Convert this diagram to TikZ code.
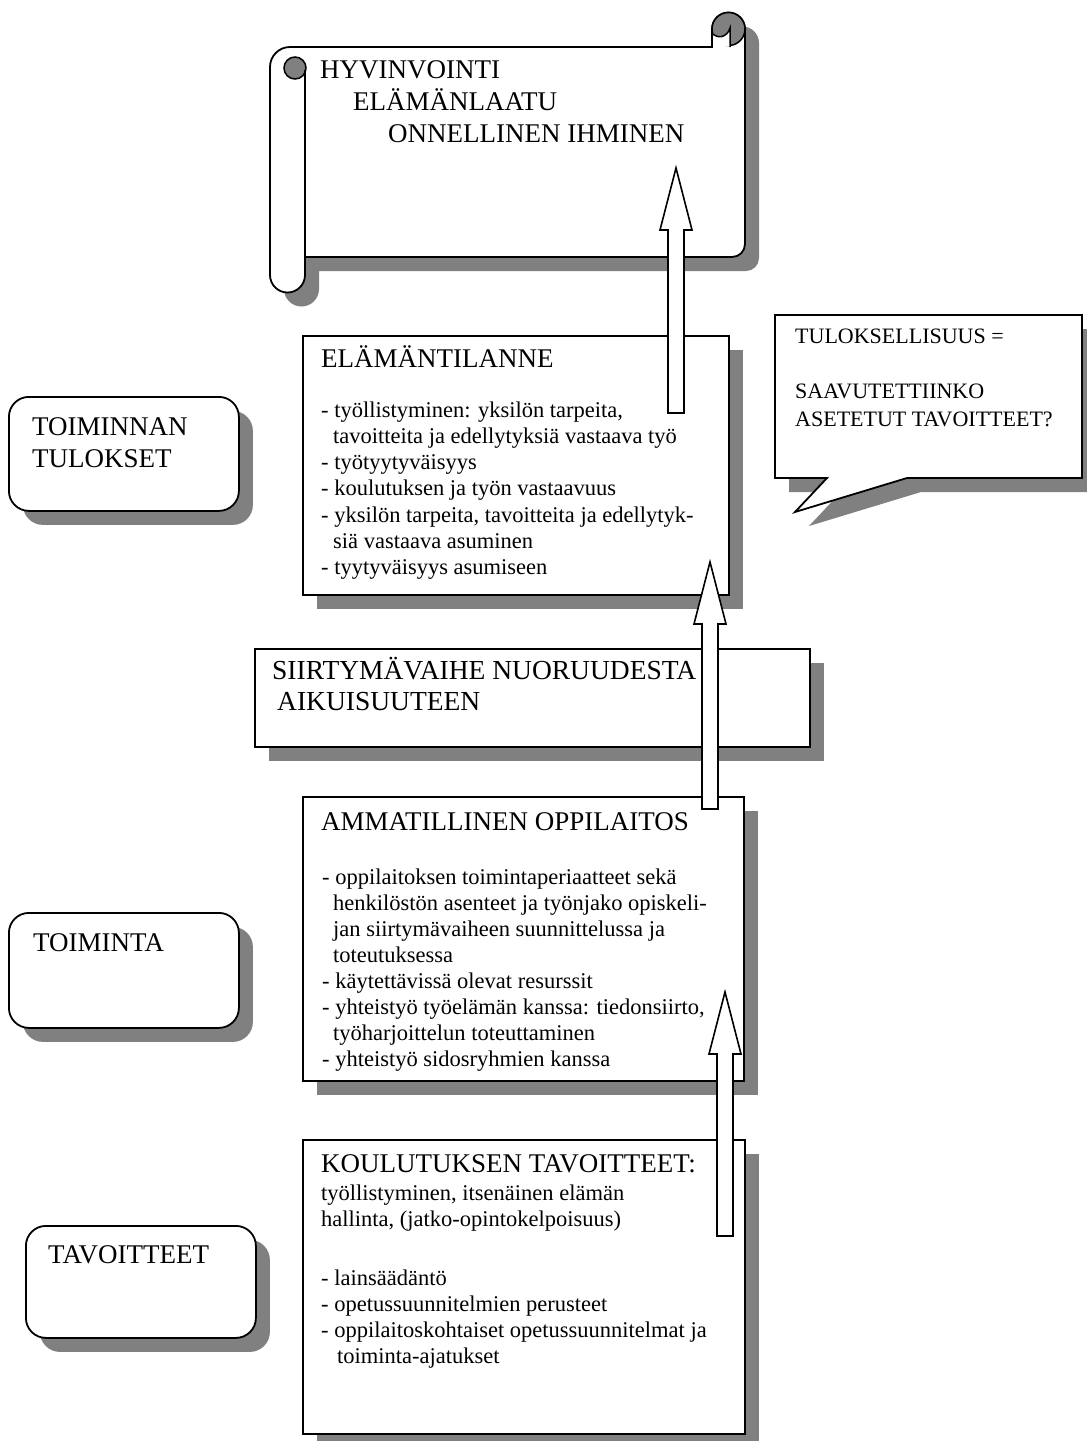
\documentclass[tikz,border=0pt]{standalone}
\usepackage{fontspec}
\setmainfont{Liberation Serif}
\usetikzlibrary{shadows,calc}
\definecolor{shadegray}{gray}{0.5}
\newcommand\rowsblock[1]{\vtop{\def\\{\cr}\halign{##\hfil\cr#1\crcr}}}
\newcommand\blockup[2]{%
  \draw[blockarrow] let \p1=(#1), \p2=(#2) in
    (\x1-8pt,\y1)--(\x1-8pt,\y2-62pt)--(\x1-16pt,\y2-62pt)--(\x2,\y2)
    --(\x1+16pt,\y2-62pt)--(\x1+8pt,\y2-62pt)--(\x1+8pt,\y1)--cycle;}
\tikzset{
  boxline/.style={draw, line width=1.8pt, fill=white},
  shadowed/.style={drop shadow={shadow xshift=14pt,shadow yshift=-14pt,fill=shadegray,opacity=1}},
  panel/.style={boxline, shadowed, anchor=north west, inner sep=0pt},
  sidebox/.style={panel, rounded corners=20pt},
  txt/.style={anchor=base west, inner sep=0pt},
  head/.style={txt, font=\fontsize{27}{32}\selectfont},
  body/.style={txt, font=\fontsize{22.5}{26.3}\selectfont},
  blockarrow/.style={draw, line width=1.6pt, fill=white},
}
\begin{document}
\begin{tikzpicture}[x=1pt, y=-1pt]
\useasboundingbox (0,0) rectangle (1087,1441);

% scroll at the top
\path[boxline, shadowed] (270,67) arc[start angle=180,end angle=90,radius=20pt] -- (712,47) -- (712,29)
    arc[start angle=180,end angle=0,radius=16.5pt] -- (745,244) arc[start angle=0,end angle=-90,radius=13pt]
    -- (305,257) -- (305,275) arc[start angle=0,end angle=-180,radius=17.5pt] -- cycle;
\filldraw[fill=shadegray, line width=1.5pt] (728.5,29) circle[radius=16.5pt];
\fill[white] (713,33) .. controls (717,39) and (727,38) .. (730,28) -- (730,46) -- (713,46) -- cycle;
\draw[line width=1.5pt] (712,33) .. controls (717,39) and (727,38) .. (730,28) -- (730,47);
\draw[line width=1.8pt] (712,47) -- (712,29);
\filldraw[fill=shadegray, line width=1.5pt] (295,68) circle[radius=11pt];
\draw[line width=1.8pt] (305,70) -- (305,257);
\node[head] (welfare) at (320,78) {\rowsblock{HYVINVOINTI\\\hskip33pt ELÄMÄNLAATU\\\hskip68pt ONNELLINEN IHMINEN}};

% callout
\path[boxline, shadowed] (775,315) -- (1082,315) -- (1082,478) -- (907,478) -- (795,512) -- (827,478) -- (775,478) -- cycle;
\node[txt, font=\fontsize{22}{27.7}\selectfont] (result) at (795,343) {\rowsblock{TULOKSELLISUUS =\\ \\SAAVUTETTIINKO\\ASETETUT TAVOITTEET?}};

% left side
\node[sidebox, minimum width=230pt, minimum height=114pt] (resultsbox) at (8,396) {};
\node[head] (results) at (32,435) {\rowsblock{TOIMINNAN\\TULOKSET}};
\node[sidebox, minimum width=230pt, minimum height=115pt] (actionbox) at (8,912) {};
\node[head] (action) at (33,951) {TOIMINTA};
\node[sidebox, minimum width=230pt, minimum height=112pt] (goalsbox) at (25,1225) {};
\node[head] (goals) at (48,1263) {TAVOITTEET};

% middle column
\node[panel, minimum width=426pt, minimum height=259pt] (situation) at (302,335) {};
\node[head] (situationhead) at (321,367) {ELÄMÄNTILANNE};
\node[body] (situationlist) at (321,417) {\rowsblock{- työllistyminen: yksilön tarpeita,\\
    \hskip12pt tavoitteita ja edellytyksiä vastaava työ\\
    - työtyytyväisyys\\
    - koulutuksen ja työn vastaavuus\\
    - yksilön tarpeita, tavoitteita ja edellytyk-\\
    \hskip12pt siä vastaava asuminen\\
    - tyytyväisyys asumiseen}};

\node[panel, minimum width=555pt, minimum height=98pt] (transition) at (254,648) {};
\node[head, font=\fontsize{27.5}{31}\selectfont] (transitiontext) at (272,679) {\rowsblock{SIIRTYMÄVAIHE NUORUUDESTA\\\hskip5pt AIKUISUUTEEN}};

\node[panel, minimum width=441pt, minimum height=284pt] (school) at (302,796) {};
\node[head] (schoolhead) at (321,830) {AMMATILLINEN OPPILAITOS};
\node[body, font=\fontsize{22.5}{26.1}\selectfont] (schoollist) at (322,884) {\rowsblock{- oppilaitoksen toimintaperiaatteet sekä\\
    \hskip11pt henkilöstön asenteet ja työnjako opiskeli-\\
    \hskip11pt jan siirtymävaiheen suunnittelussa ja\\
    \hskip11pt toteutuksessa\\
    - käytettävissä olevat resurssit\\
    - yhteistyö työelämän kanssa: tiedonsiirto,\\
    \hskip11pt työharjoittelun toteuttaminen\\
    - yhteistyö sidosryhmien kanssa}};

\node[panel, minimum width=442pt, minimum height=294pt] (training) at (302,1139) {};
\node[head] (traininghead) at (321,1172) {KOULUTUKSEN TAVOITTEET:};
\node[body, font=\fontsize{22.5}{26}\selectfont] (traininggoal) at (321,1200) {\rowsblock{työllistyminen, itsenäinen elämän\\hallinta, (jatko-opintokelpoisuus)}};
\node[body, font=\fontsize{22.5}{26}\selectfont] (traininglist) at (321,1285) {\rowsblock{- lainsäädäntö\\
    - opetussuunnitelmien perusteet\\
    - oppilaitoskohtaiset opetussuunnitelmat ja\\
    \hskip16pt toiminta-ajatukset}};

% block arrows
\coordinate (up1a) at (676,413); \coordinate (up1b) at (676,168);
\coordinate (up2a) at (710,809); \coordinate (up2b) at (710,562);
\coordinate (up3a) at (725,1236); \coordinate (up3b) at (725,992);
\blockup{up1a}{up1b}
\blockup{up2a}{up2b}
\blockup{up3a}{up3b}

\end{tikzpicture}
\end{document}
